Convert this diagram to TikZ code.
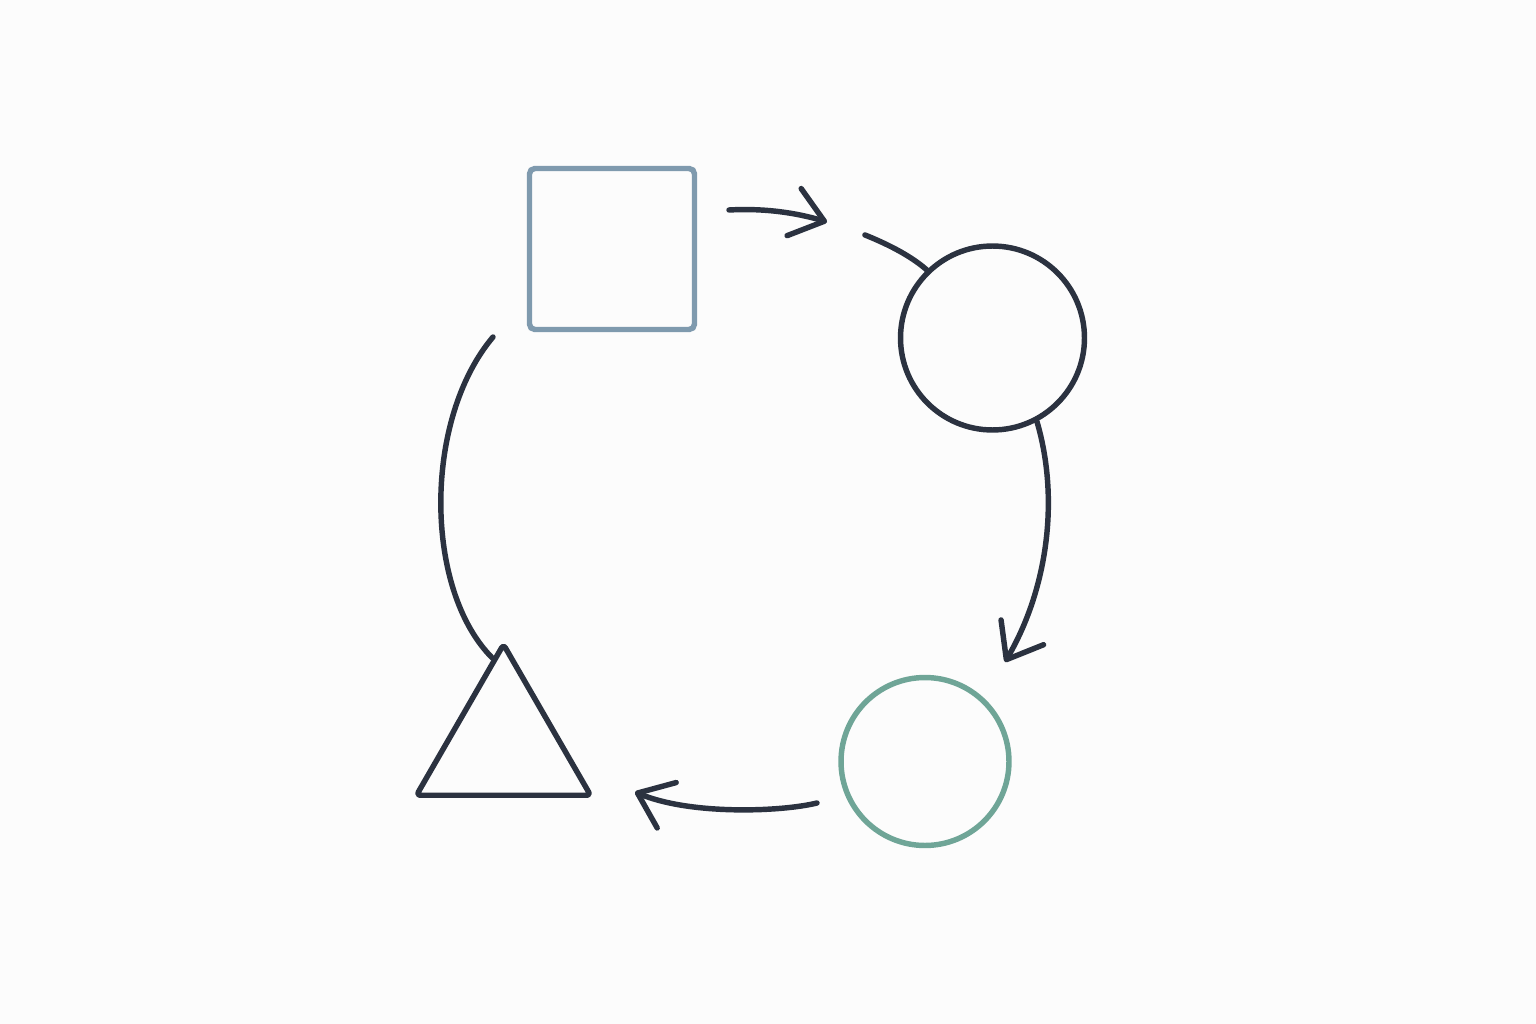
\documentclass[tikz,border=0pt]{standalone}
\usetikzlibrary{arrows.meta,shapes.geometric,calc}
\definecolor{inkdark}{HTML}{2B3240}
\definecolor{inkblue}{HTML}{7F9AAE}
\definecolor{inkgreen}{HTML}{6FA597}
\tikzset{
  outline/.style={draw, line width=3.1pt, inner sep=0pt},
  flow/.style={draw=inkdark, line width=3.1pt, line cap=round},
  flowtip/.style={flow, -{Straight Barb[length=18pt,width=28pt,round]}}
}
\begin{document}
\begin{tikzpicture}[x=0.02cm,y=-0.02cm]
		%%%%% START %%%%%
		\fill[black!1] (0,0) rectangle (1536,1024);
		\useasboundingbox (0,0) rectangle (1536,1024);
		
		\node[outline, draw=inkblue, rounded corners=3pt, minimum width=3.3cm, minimum height=3.22cm] (square) at (612, 249) {};
		\node[outline, draw=inkdark, circle, minimum size=3.68cm] (ringtop) at (992.5, 338) {};
		\node[outline, draw=inkgreen, circle, minimum size=3.36cm] (ringlow) at (925, 761.5) {};
		\node[outline, draw=inkdark, regular polygon, regular polygon sides=3, minimum size=4.02cm, line join=round, rounded corners=2pt] (triangle) at (503.5, 745) {};
		
		\coordinate (sqout) at (729, 210);
		\coordinate (toptip) at (827, 222);
		\coordinate (arcin) at (865, 235);
		\coordinate (righttip) at (1005, 662);
		\coordinate (lowout) at (817, 803);
		\coordinate (lefttip) at (635, 792);
		\coordinate (sqbelow) at (493, 337);
		\coordinate (trihit) at ($(triangle.corner 1)!0.12!(triangle.corner 2)$);
		
		\draw[flowtip] (sqout) .. controls (765, 208) and (797, 213) .. (toptip);
		\draw[flow] (arcin) .. controls (885, 243) and (910, 255) .. (ringtop.134);
		\draw[flowtip] (ringtop.-62) .. controls (1060, 500) and (1047, 590) .. (righttip);
		\draw[flowtip] (lowout) .. controls (780, 812) and (690, 815) .. (lefttip);
		\draw[flow] (sqbelow) .. controls (423, 420) and (424, 590) .. (trihit);
		%%%%% END %%%%%
\end{tikzpicture}
\end{document}
